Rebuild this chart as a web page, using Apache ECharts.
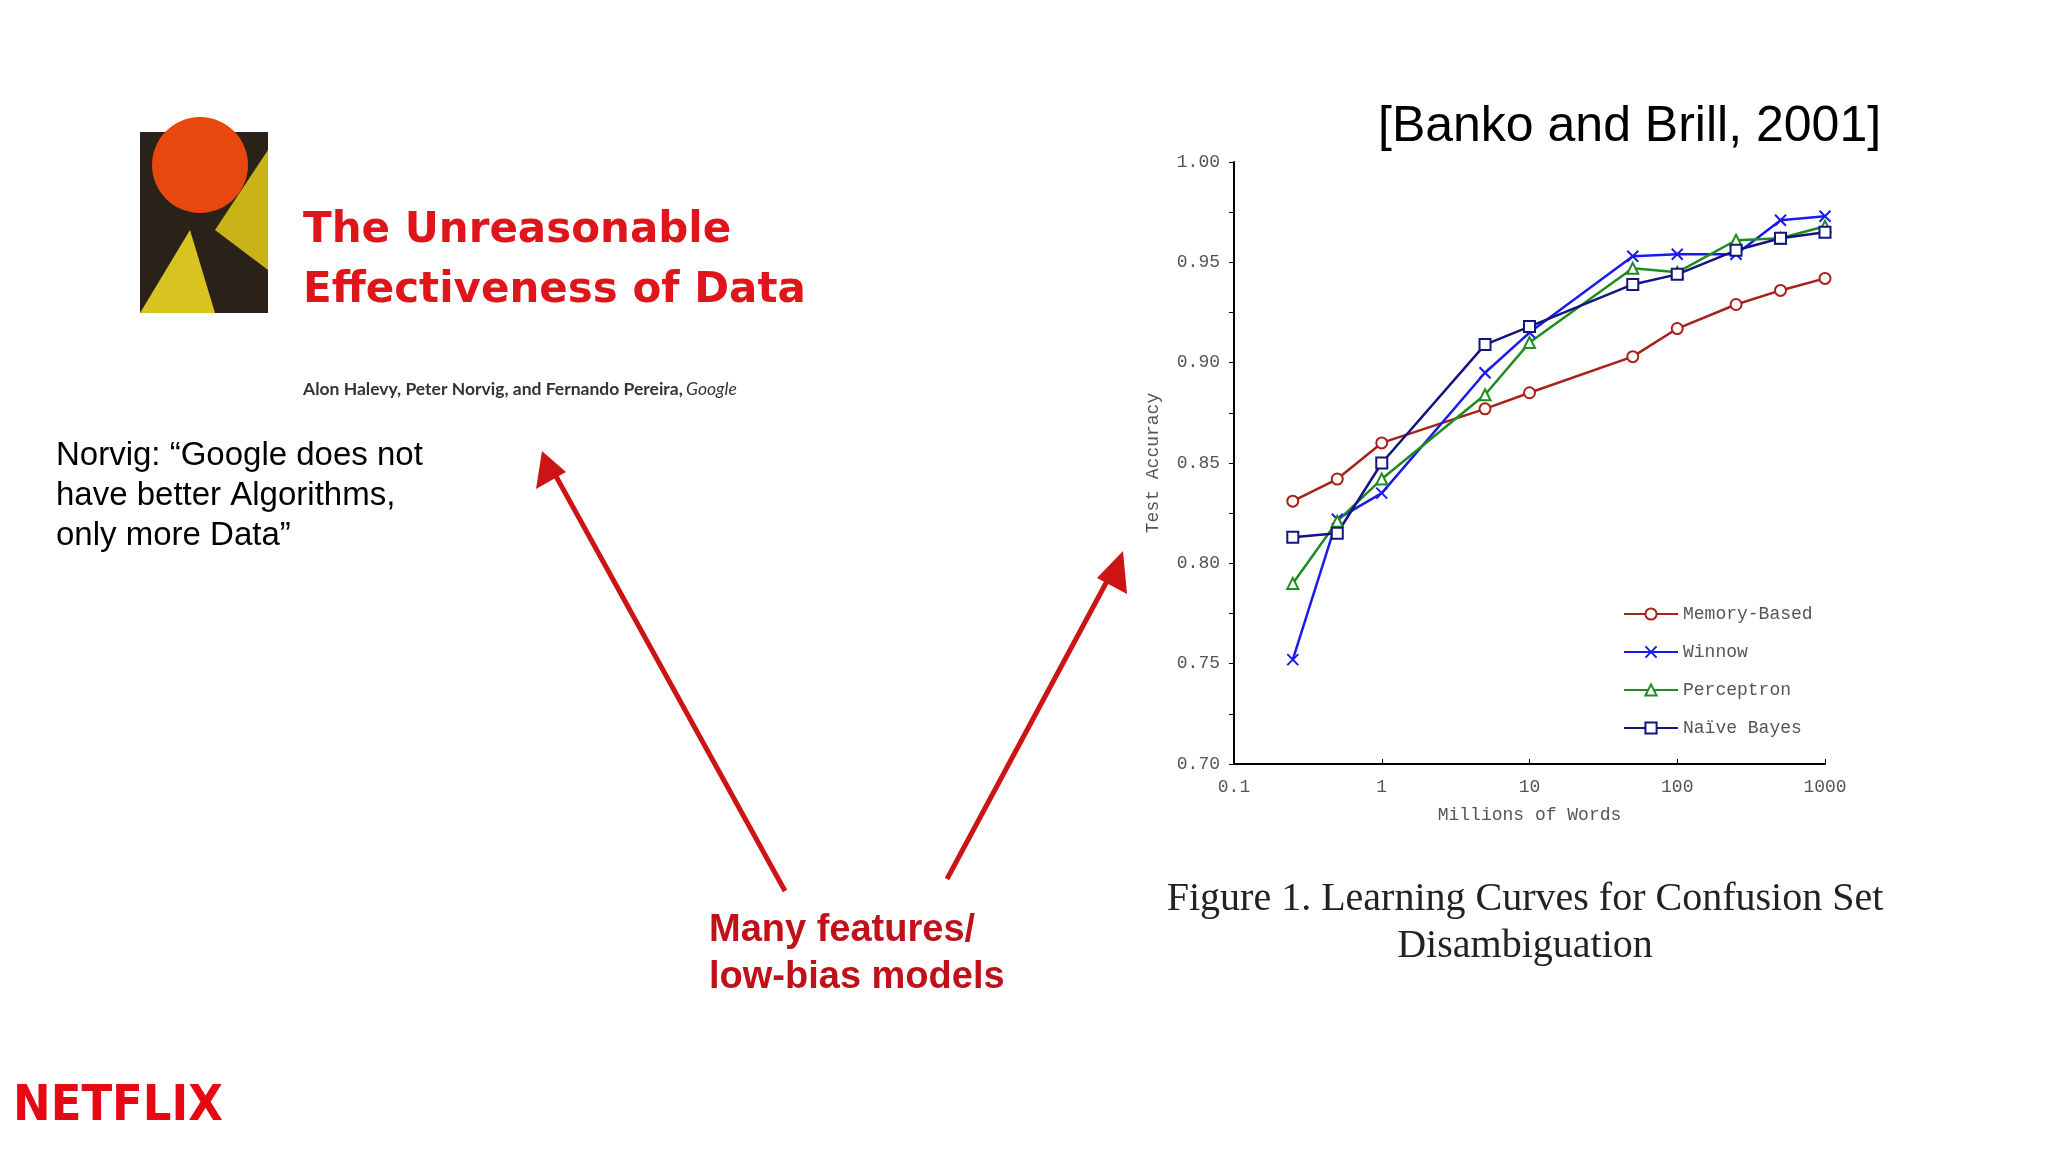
<!DOCTYPE html>
<html><head><meta charset="utf-8">
<script src="https://cdn.jsdelivr.net/npm/echarts@6/dist/echarts.min.js"></script>
<style>html,body{margin:0;background:#fff}#chart{width:2048px;height:1152px}</style>
</head><body><div id="chart"></div>
<script>
// Millions of words (x) and test accuracy per learner
const words = [0.25, 0.5, 1, 5, 10, 50, 100, 250, 500, 1000];
const memoryBased = [0.831, 0.842, 0.860, 0.877, 0.885, 0.903, 0.917, 0.929, 0.936, 0.942];
const winnow = [0.752, 0.822, 0.835, 0.895, 0.915, 0.953, 0.954, 0.954, 0.971, 0.973];
const perceptron = [0.790, 0.821, 0.842, 0.884, 0.910, 0.947, 0.945, 0.961, 0.962, 0.968];
const naiveBayes = [0.813, 0.815, 0.850, 0.909, 0.918, 0.939, 0.944, 0.956, 0.962, 0.965];

const mono = "Liberation Mono";
const gray = "#555";

function makeSeries(name, values, color, symbol) {
  return {
    name: name,
    type: "line",
    data: words.map((w, i) => [w, values[i]]),
    symbol: symbol,
    symbolSize: 11,
    showSymbol: true,
    itemStyle: { color: color, borderColor: color, borderWidth: 2 },
    lineStyle: { color: color, width: 2.5 },
  };
}

const chart = echarts.init(document.getElementById("chart"));
const red = "#cc1414";
const xMark = "path://M0,0L10,10M10,0L0,10";

chart.setOption({
  animation: false,
  grid: { left: 1234, top: 162, width: 591, height: 602 },
  xAxis: {
    type: "log", logBase: 10, min: 0.1, max: 1000,
    name: "Millions of Words", nameLocation: "middle", nameGap: 42,
    nameTextStyle: { fontFamily: mono, fontSize: 18, color: gray },
    axisLine: { lineStyle: { color: "#000", width: 2 } },
    axisTick: { show: true, inside: true, lineStyle: { color: "#000" } },
    axisLabel: { fontFamily: mono, fontSize: 18, color: gray, margin: 14, formatter: (v) => String(v) },
    splitLine: { show: false },
  },
  yAxis: {
    type: "value", min: 0.7, max: 1.0, interval: 0.05,
    name: "Test Accuracy", nameLocation: "middle", nameGap: 72,
    nameTextStyle: { fontFamily: mono, fontSize: 18, color: gray },
    axisLine: { show: true, lineStyle: { color: "#000", width: 2 } },
    axisTick: { show: true, lineStyle: { color: "#000" } },
    minorTick: { show: true, splitNumber: 2, length: 5, lineStyle: { color: "#000" } },
    axisLabel: { fontFamily: mono, fontSize: 18, color: gray, margin: 14, formatter: (v) => v.toFixed(2) },
    splitLine: { show: false },
  },
  legend: {
    orient: "vertical", left: 1618, top: 600, itemGap: 20, itemWidth: 54, itemHeight: 14,
    textStyle: { fontFamily: mono, fontSize: 18, color: gray },
    data: ["Memory-Based", "Winnow", "Perceptron", "Naïve Bayes"],
  },
  series: [
    makeSeries("Memory-Based", memoryBased, "#a8201a", "emptyCircle"),
    makeSeries("Winnow", winnow, "#1a1aee", xMark),
    makeSeries("Perceptron", perceptron, "#1e8c1e", "emptyTriangle"),
    makeSeries("Naïve Bayes", naiveBayes, "#141480", "emptyRect"),
  ],
  graphic: [
    { type: "text", left: 1378, top: 102, style: { text: "[Banko and Brill, 2001]", font: "50px 'Liberation Sans'", fill: "#000" } },
    // cover image placeholder
    { type: "rect", shape: { x: 140, y: 132, width: 128, height: 181 }, style: { fill: "#2a2118" } },
    { type: "polygon", shape: { points: [[140, 313], [190, 230], [215, 313]] }, style: { fill: "#d8c420" } },
    { type: "polygon", shape: { points: [[268, 150], [215, 230], [268, 270]] }, style: { fill: "#c8b418" } },
    { type: "circle", shape: { cx: 200, cy: 165, r: 48 }, style: { fill: "#e8480e" } },
    { type: "text", left: 303, top: 210, style: { text: "The Unreasonable", font: "900 42px 'DejaVu Sans'", fill: "#e0151c" } },
    { type: "text", left: 303, top: 270, style: { text: "Effectiveness of Data", font: "900 42px 'DejaVu Sans'", fill: "#e0151c" } },
    { type: "text", left: 303, top: 380, style: { rich: { a: { font: "bold 17.5px 'Lato'", fill: "#333" }, b: { font: "italic 17.5px 'Lato'", fill: "#333" } }, text: "{a|Alon Halevy, Peter Norvig, and Fernando Pereira,} {b|Google}" } },
    { type: "text", left: 56, top: 436, style: { text: "Norvig: “Google does not\nhave better Algorithms,\nonly more Data”", font: "33px 'Liberation Sans'", lineHeight: 40, fill: "#000" } },
    { type: "line", shape: { x1: 785, y1: 891, x2: 552, y2: 469 }, style: { stroke: red, lineWidth: 5 } },
    { type: "polygon", shape: { points: [[542, 451], [536, 489], [566, 472]] }, style: { fill: red } },
    { type: "line", shape: { x1: 947, y1: 879, x2: 1113, y2: 570 }, style: { stroke: red, lineWidth: 5 } },
    { type: "polygon", shape: { points: [[1123, 551], [1097, 578], [1127, 594]] }, style: { fill: red } },
    { type: "text", left: 709, top: 907, style: { text: "Many features/\nlow-bias models", font: "bold 38px 'Liberation Sans'", lineHeight: 47, fill: "#c0101a" } },
    { type: "text", x: 1525, y: 876, style: { text: "Figure 1. Learning Curves for Confusion Set\nDisambiguation", font: "40px 'Liberation Serif'", lineHeight: 47, fill: "#222", textAlign: "center" } },
    { type: "text", left: 13, top: 1082, style: { text: "NETFLIX", font: "bold 50px 'DejaVu Sans Condensed'", fill: "#e50914" } },
  ],
});
</script></body></html>
